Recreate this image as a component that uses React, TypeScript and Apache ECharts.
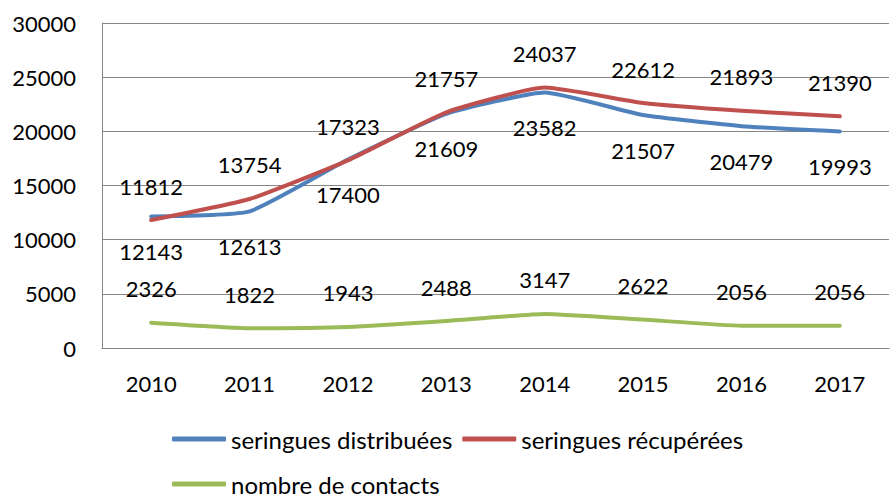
import React, { useEffect, useRef } from "react";
import * as echarts from "echarts";

const years = ["2010", "2011", "2012", "2013", "2014", "2015", "2016", "2017"];
const distribuees = [12143, 12613, 17400, 21609, 23582, 21507, 20479, 19993];
const recuperees = [11812, 13754, 17323, 21757, 24037, 22612, 21893, 21390];
const contacts = [2326, 1822, 1943, 2488, 3147, 2622, 2056, 2056];

const FONT = "Lato";

export default function App() {
  const ref = useRef<HTMLDivElement>(null);
  useEffect(() => {
    if (!ref.current) return;
    const chart = echarts.init(ref.current, undefined, { renderer: "svg" });
    const label = (pos: string, dist: number) => ({
      show: true,
      position: pos,
      distance: dist,
      color: "#000",
      fontFamily: FONT,
      fontSize: 22,
      lineHeight: 22,
    });
    const legendCommon = {
      orient: "horizontal",
      left: 172,
      padding: 0,
      itemWidth: 54,
      itemHeight: 5,
      itemGap: 10,
      icon: "roundRect",
      textStyle: { color: "#000", fontFamily: FONT, fontSize: 24, lineHeight: 24 },
    };
    const lineSeries = (name: string, data: number[], color: string, pos: string, dist: number) => ({
      name,
      type: "line",
      data,
      smooth: 0.15,
      showSymbol: true,
      symbol: "circle",
      symbolSize: 0,
      lineStyle: { color, width: 4, cap: "round", join: "round" },
      itemStyle: { color },
      label: label(pos, dist),
      emphasis: { disabled: true },
    });
    chart.setOption({
      animation: false,
      textStyle: { fontFamily: FONT },
      grid: { left: 102, right: 3, top: 23, bottom: 149, containLabel: false },
      legend: [
        { ...legendCommon, top: 427, data: ["seringues distribuées", "seringues récupérées"] },
        { ...legendCommon, top: 472, data: ["nombre de contacts"] },
      ],
      xAxis: {
        type: "category",
        data: years,
        boundaryGap: true,
        axisLine: { show: true, lineStyle: { color: "#868686", width: 1 } },
        axisTick: { show: false },
        axisLabel: { color: "#000", fontFamily: FONT, fontSize: 22, margin: 24 },
      },
      yAxis: {
        type: "value",
        min: 0,
        max: 30000,
        interval: 5000,
        axisLine: { show: true, lineStyle: { color: "#868686", width: 1 } },
        axisTick: { show: false },
        splitLine: { show: true, lineStyle: { color: "#868686", width: 1 } },
        axisLabel: {
          color: "#000",
          fontFamily: FONT,
          fontSize: 22,
          margin: 26,
          formatter: (v: number) => String(v),
        },
      },
      series: [
        lineSeries("seringues distribuées", distribuees, "#4F81BD", "bottom", 24),
        lineSeries("seringues récupérées", recuperees, "#C0504D", "top", 23),
        lineSeries("nombre de contacts", contacts, "#9BBB59", "top", 23),
      ],
    });
    return () => chart.dispose();
  }, []);
  return <div ref={ref} style={{ width: 892, height: 497, position: "absolute", left: 0, top: 0 }} />;
}
